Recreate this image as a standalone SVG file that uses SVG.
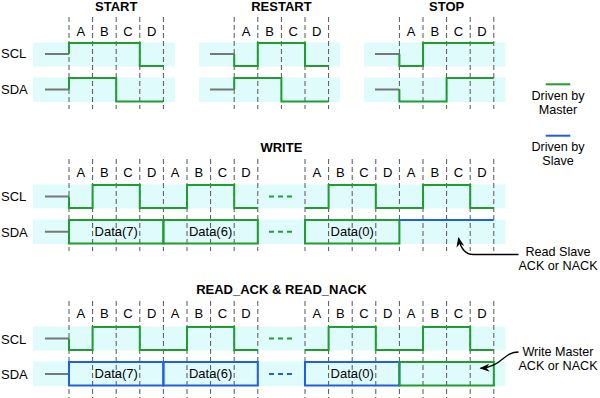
<svg xmlns="http://www.w3.org/2000/svg" width="600" height="398" viewBox="0 0 600 398">
<defs>
<style>
text{font-family:"Liberation Sans",Arial,sans-serif;font-size:13px;fill:#000}
.t{font-weight:bold;text-anchor:middle}
.c{text-anchor:middle}
.n{text-anchor:middle;font-size:12.6px}
.band{fill:#e0fbfb}
.grid{stroke:#555;stroke-width:1;stroke-dasharray:5,3;fill:none}
.lead{stroke:#777;stroke-width:2;fill:none}
.g{stroke:#1f9d2f;stroke-width:2;fill:none}
.b{stroke:#1f5fe6;stroke-width:2;fill:none}
.gd{stroke:#1f9d2f;stroke-width:2;stroke-dasharray:5,4;fill:none}
.bd{stroke:#1f5fe6;stroke-width:2;stroke-dasharray:5,4;fill:none}
.arr{stroke:#000;stroke-width:1.3;fill:none}
</style>
<marker id="ah" viewBox="0 0 10 8" refX="9" refY="4" markerWidth="10" markerHeight="8" markerUnits="userSpaceOnUse" orient="auto">
<path d="M0,0 L10,4 L0,8 L3,4 Z" fill="#000"/>
</marker>
</defs>
<rect width="600" height="398" fill="#fff"/>

<g id="bands">
<rect class="band" x="33" y="42.5" width="142" height="24"/>
<rect class="band" x="33" y="77.5" width="142" height="24.5"/>
<rect class="band" x="199" y="42.5" width="141" height="24"/>
<rect class="band" x="199" y="77.5" width="141" height="24.5"/>
<rect class="band" x="364" y="42.5" width="141.5" height="24"/>
<rect class="band" x="364" y="77.5" width="141.5" height="24.5"/>
<rect class="band" x="33" y="184.5" width="472.5" height="24"/>
<rect class="band" x="33" y="219.5" width="472.5" height="24.5"/>
<rect class="band" x="33" y="326.5" width="472.5" height="24"/>
<rect class="band" x="33" y="361.5" width="472.5" height="24.5"/>
</g>

<g id="grid">
<path class="grid" d="M69,17V109M92.6,17V109M116.2,17V109M139.8,17V109M163.4,17V109M234.2,17V109M257.8,17V109M281.4,17V109M305,17V109M328.6,17V109M399.4,17V109M423,17V109M446.6,17V109M470.2,17V109M493.8,17V109"/>
<path class="grid" d="M69,159V251M92.6,159V251M116.2,159V251M139.8,159V251M163.4,159V251M187,159V251M210.6,159V251M234.2,159V251M257.8,159V251M305,159V251M328.6,159V251M352.2,159V251M375.8,159V251M399.4,159V251M423,159V251M446.6,159V251M470.2,159V251M493.8,159V251"/>
<path class="grid" d="M69,301V398M92.6,301V398M116.2,301V398M139.8,301V398M163.4,301V398M187,301V398M210.6,301V398M234.2,301V398M257.8,301V398M305,301V398M328.6,301V398M352.2,301V398M375.8,301V398M399.4,301V398M423,301V398M446.6,301V398M470.2,301V398M493.8,301V398"/>
</g>

<g id="titles">
<text class="t" x="116.2" y="10.5">START</text>
<text class="t" x="281.4" y="10.5">RESTART</text>
<text class="t" x="446.6" y="10.5">STOP</text>
<text class="t" x="281.4" y="152">WRITE</text>
<text class="t" x="281.4" y="294">READ_ACK &amp; READ_NACK</text>
</g>

<g id="phase-labels">
<text class="c" x="80.8" y="35.7">A</text><text class="c" x="104.4" y="35.7">B</text><text class="c" x="128" y="35.7">C</text><text class="c" x="151.6" y="35.7">D</text>
<text class="c" x="246" y="35.7">A</text><text class="c" x="269.6" y="35.7">B</text><text class="c" x="293.2" y="35.7">C</text><text class="c" x="316.8" y="35.7">D</text>
<text class="c" x="411.2" y="35.7">A</text><text class="c" x="434.8" y="35.7">B</text><text class="c" x="458.4" y="35.7">C</text><text class="c" x="482" y="35.7">D</text>

<text class="c" x="80.8" y="177">A</text><text class="c" x="104.4" y="177">B</text><text class="c" x="128" y="177">C</text><text class="c" x="151.6" y="177">D</text>
<text class="c" x="175.2" y="177">A</text><text class="c" x="198.8" y="177">B</text><text class="c" x="222.4" y="177">C</text><text class="c" x="246" y="177">D</text>
<text class="c" x="316.8" y="177">A</text><text class="c" x="340.4" y="177">B</text><text class="c" x="364" y="177">C</text><text class="c" x="387.6" y="177">D</text>
<text class="c" x="411.2" y="177">A</text><text class="c" x="434.8" y="177">B</text><text class="c" x="458.4" y="177">C</text><text class="c" x="482" y="177">D</text>

<text class="c" x="80.8" y="318">A</text><text class="c" x="104.4" y="318">B</text><text class="c" x="128" y="318">C</text><text class="c" x="151.6" y="318">D</text>
<text class="c" x="175.2" y="318">A</text><text class="c" x="198.8" y="318">B</text><text class="c" x="222.4" y="318">C</text><text class="c" x="246" y="318">D</text>
<text class="c" x="316.8" y="318">A</text><text class="c" x="340.4" y="318">B</text><text class="c" x="364" y="318">C</text><text class="c" x="387.6" y="318">D</text>
<text class="c" x="411.2" y="318">A</text><text class="c" x="434.8" y="318">B</text><text class="c" x="458.4" y="318">C</text><text class="c" x="482" y="318">D</text>
</g>

<g id="row-labels">
<text x="1" y="58">SCL</text>
<text x="1" y="94">SDA</text>
<text x="1" y="201">SCL</text>
<text x="1" y="236.5">SDA</text>
<text x="1" y="343.5">SCL</text>
<text x="1" y="378.5">SDA</text>
</g>

<g id="start">
<path class="lead" d="M45,54H69M45,89.5H69"/>
<path class="g" d="M69,54V43H139.8V66H163.4"/>
<path class="g" d="M69,89.5V78H116.2V101.5H163.4"/>
</g>

<g id="restart">
<path class="lead" d="M210,54H234.2M210,89.5H234.2"/>
<path class="g" d="M234.2,54V66H257.8V43H305V66H328.6"/>
<path class="g" d="M234.2,89.5V78H281.4V101.5H328.6"/>
</g>

<g id="stop">
<path class="lead" d="M375,54H399.4M375,89.5H399.4"/>
<path class="g" d="M399.4,54V66H423V43H493.8"/>
<path class="g" d="M399.4,89.5V101.5H446.6V78H493.8"/>
</g>

<g id="write">
<path class="lead" d="M45,196.5H69M45,231.7H69"/>
<path class="g" d="M69,196.5V208H92.6V185H139.8V208H187V185H234.2V208H257.8"/>
<path class="gd" d="M269,196.5H294"/>
<path class="g" d="M305,208H328.6V185H375.8V208H423V185H470.2V208H493.8"/>
<rect class="g" x="69" y="220" width="94.4" height="23.5"/>
<rect class="g" x="163.4" y="220" width="94.4" height="23.5"/>
<path class="gd" d="M269,231.7H294"/>
<rect class="g" x="305" y="220" width="94.4" height="23.5"/>
<path class="b" d="M399.4,220H493.8"/>
<text class="c" x="116.2" y="236.3">Data(7)</text>
<text class="c" x="210.6" y="236.3">Data(6)</text>
<text class="c" x="352.2" y="236.3">Data(0)</text>
</g>

<g id="read">
<path class="lead" d="M45,338.5H69M45,374H69"/>
<path class="g" d="M69,338.5V350H92.6V327H139.8V350H187V327H234.2V350H257.8"/>
<path class="gd" d="M269,338.5H294"/>
<path class="g" d="M305,350H328.6V327H375.8V350H423V327H470.2V350H493.8"/>
<rect class="b" x="69" y="362" width="94.4" height="23.5"/>
<rect class="b" x="163.4" y="362" width="94.4" height="23.5"/>
<path class="bd" d="M269,374H294"/>
<rect class="b" x="305" y="362" width="94.4" height="23.5"/>
<rect class="g" x="399.4" y="362" width="94.4" height="23.5"/>
<text class="c" x="116.2" y="378.3">Data(7)</text>
<text class="c" x="210.6" y="378.3">Data(6)</text>
<text class="c" x="352.2" y="378.3">Data(0)</text>
</g>

<g id="legend">
<path class="g" d="M545.7,84.3H570.3"/>
<text class="n" x="558" y="100">Driven by</text>
<text class="n" x="558" y="114">Master</text>
<path class="b" d="M545.7,135.7H570.3"/>
<text class="n" x="558" y="150.5">Driven by</text>
<text class="n" x="558" y="164.5">Slave</text>
</g>

<g id="connectors">
<path class="arr" marker-end="url(#ah)" d="M518.5,254.5H473Q462,254.5 458.5,238"/>
<path class="arr" marker-end="url(#ah)" d="M518.5,352C503,352 502,367 480.5,368.3"/>
</g>

<g id="notes">
<text class="n" x="558" y="255.5">Read Slave</text>
<text class="n" x="558" y="269.5">ACK or NACK</text>
<text class="n" x="558" y="355.5">Write Master</text>
<text class="n" x="558" y="369.5">ACK or NACK</text>
</g>
</svg>
